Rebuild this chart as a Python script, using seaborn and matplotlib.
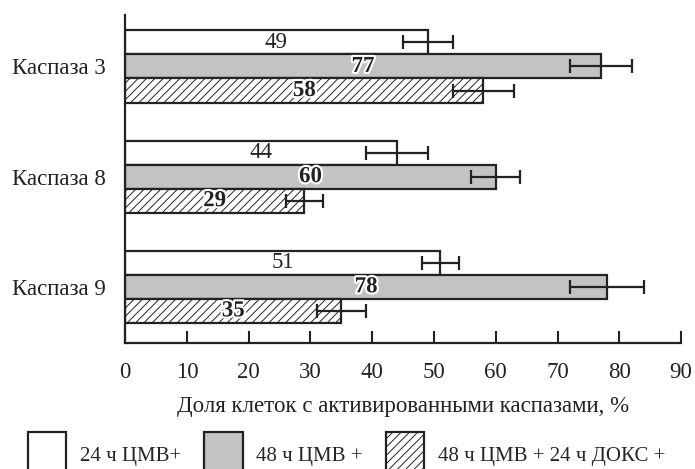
import matplotlib
matplotlib.use('Agg')
import matplotlib.pyplot as plt
import matplotlib.patheffects as pe
from matplotlib.patches import Patch
import pandas as pd
import seaborn as sns

# Данные
caspases = ['Каспаза 3', 'Каспаза 8', 'Каспаза 9']
groups = ['24 ч ЦМВ+', '48 ч ЦМВ +', '48 ч ЦМВ + 24 ч ДОКС +']
vals_24 = [49, 44, 51]
vals_48 = [77, 60, 78]
vals_doks = [58, 29, 35]
err_24 = [4, 5, 3]
err_48 = [5, 4, 6]
err_doks = [5, 3, 4]
x_ticks = [0, 10, 20, 30, 40, 50, 60, 70, 80, 90]

sns.set_style('ticks')
plt.rcParams['font.family'] = ['Liberation Serif', 'DejaVu Serif']
plt.rcParams['hatch.linewidth'] = 0.7

df = pd.DataFrame({
    'caspase': caspases * 3,
    'group': [groups[0]] * 3 + [groups[1]] * 3 + [groups[2]] * 3,
    'value': vals_24 + vals_48 + vals_doks,
    'err': err_24 + err_48 + err_doks,
})

colors = ['white', '#c3c3c3', 'white']
edge = '#222222'
fs = 16.5

fig = plt.figure(figsize=(6.95, 4.69), dpi=100)
ax = fig.add_axes([0.18, 0.2687, 0.80, 0.7])

sns.barplot(data=df, y='caspase', x='value', hue='group', hue_order=groups,
            palette=colors, orient='h', width=0.655, errorbar=None,
            edgecolor=edge, linewidth=1.6, legend=False, ax=ax)

# контейнеры копируем до errorbar, иначе список растёт
bar_conts = list(ax.containers)
for i, cont in enumerate(bar_conts):
    sub = df[df['group'] == groups[i]]
    for bar, v, e in zip(cont, sub['value'], sub['err']):
        yc = bar.get_y() + bar.get_height() / 2
        if i == 2:
            bar.set_hatch('////')
        ax.errorbar(v, yc, xerr=e, fmt='none', ecolor=edge, elinewidth=1.6,
                    capsize=5, capthick=1.6, zorder=5)
        if i == 0:
            ax.text(v / 2, yc, str(v), ha='center', va='center', fontsize=fs,
                    color='#222222', zorder=6)
        else:
            ax.text(v / 2, yc, str(v), ha='center', va='center', fontsize=fs,
                    fontweight='bold', color='#222222', zorder=6,
                    path_effects=[pe.withStroke(linewidth=3, foreground='white')])

ax.set_xlim(0, 90)
ax.set_ylim(2.51, -0.47)
ax.set_xticks(x_ticks)
ax.set_xlabel('Доля клеток с активированными каспазами, %', fontsize=fs,
              color='#222222', labelpad=9)
ax.set_ylabel('')
ax.tick_params(axis='x', direction='in', length=9, width=1.5, labelsize=fs,
               pad=14, colors='#222222')
ax.tick_params(axis='y', length=0, labelsize=fs, pad=14, colors='#222222')
for s in ['top', 'right']:
    ax.spines[s].set_visible(False)
for s in ['left', 'bottom']:
    ax.spines[s].set_linewidth(1.6)
    ax.spines[s].set_color('#222222')

handles = [Patch(facecolor=colors[k], edgecolor=edge, linewidth=1.6,
                 hatch='////' if k == 2 else None) for k in range(3)]
fig.legend(handles, groups, loc='upper left', bbox_to_anchor=(0.04, 0.079),
           ncol=3, frameon=False, fontsize=15, handlelength=1.85,
           handleheight=3.0, handletextpad=0.65, columnspacing=1.1,
           borderpad=0, borderaxespad=0)

fig.savefig('out.png', dpi=100)
